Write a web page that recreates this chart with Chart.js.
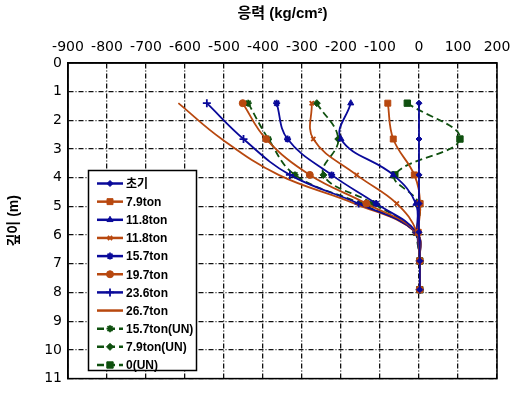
<!DOCTYPE html>
<html>
<head>
<meta charset="utf-8">
<script src="https://cdn.jsdelivr.net/npm/chart.js@4.4.1/dist/chart.umd.min.js"></script>
<style>
  html, body { margin: 0; padding: 0; background: #fff; }
  #wrap { width: 518px; height: 393px; }
</style>
</head>
<body>
<div id="wrap"><canvas id="stressChart" width="518" height="393"></canvas></div>
<script>
// measuring depths (m)
const depths = [1.4, 2.65, 3.9, 4.9, 5.9, 6.9, 7.9];

// series names
const seriesNames = ['초기', '7.9ton', '11.8ton', '11.8ton', '15.7ton', '19.7ton',
  '23.6ton', '26.7ton', '15.7ton(UN)', '7.9ton(UN)', '0(UN)'];

// stress (kg/cm2) at each depth
const initial   = [0, 0, 0, 0, 0, 2, 2];
const load79    = [-80, -66, -12, 3, -2, 2, 2];
const load118a  = [-175, -200, -66, -8, -5, 2, 2];
const load118b  = [-275, -271, -160, -57, -5, 2, 2];
const load157   = [-365, -337, -224, -110, -6, 2, 2];
const load197   = [-452, -392, -280, -135, -6, 2, 2];
const load236   = [-544, -450, -331, -155, -7, 2, 2];
const load267   = [-617, -506, -360, -165, -8, 2, 2];
const unload157 = [-438, -386, -318, -151, -8, 2, 2];
const unload79  = [-262, -207, -245, -117, -8, 2, 2];
const unload0   = [-30, 105, -62, 0, -6, 2, 2];

// axis ticks
const xTicks = [-900, -800, -700, -600, -500, -400, -300, -200, -100, 0, 100, 200];
const yTicks = [0, 1, 2, 3, 4, 5, 6, 7, 8, 9, 10, 11];

const BLUE = '#0a0a9a';
const BROWN = '#b8480f';
const GREEN = '#0f500f';

function points(vals) {
  return vals.map((v, i) => ({ x: v, y: depths[i] }));
}

function series(i, vals, color, style, radius, dashed) {
  return {
    label: seriesNames[i],
    data: points(vals),
    borderColor: color,
    backgroundColor: color,
    borderWidth: 1.8,
    borderDash: dashed ? [7, 4] : [],
    tension: 0.4,
    pointStyle: style,
    pointRadius: style ? radius : 0,
    pointBorderWidth: (style === 'star' || style === 'cross' || style === 'crossRot') ? 1.8 : 1,
    pointBorderColor: color,
    pointBackgroundColor: color
  };
}

const datasets = [
  series(0, initial, BLUE, 'rectRot', 3, false),
  series(1, load79, BROWN, 'rect', 4.2, false),
  series(2, load118a, BLUE, 'triangle', 3.5, false),
  series(3, load118b, BROWN, 'crossRot', 3, false),
  series(4, load157, BLUE, 'star', 3.5, false),
  series(5, load197, BROWN, 'circle', 3.5, false),
  series(6, load236, BLUE, 'cross', 4, false),
  series(7, load267, BROWN, false, 0, false),
  series(8, unload157, GREEN, 'star', 3.5, true),
  series(9, unload79, GREEN, 'rectRot', 3.5, true),
  series(10, unload0, GREEN, 'rect', 4.5, true)
];

// frame around the plot
const frame = {
  id: 'frame',
  afterDatasetsDraw(chart) {
    const { ctx, chartArea: a } = chart;
    ctx.save();
    ctx.strokeStyle = '#000';
    ctx.lineWidth = 1.5;
    ctx.strokeRect(a.left, a.top, a.right - a.left, a.bottom - a.top);
    ctx.restore();
  }
};

// boxed legend sitting inside the plot, lower left
const boxLegend = {
  id: 'boxLegend',
  afterDraw(chart) {
    const ctx = chart.ctx;
    const left = 88.5, top = 170.5, w = 108, h = 200;
    ctx.save();
    ctx.fillStyle = '#fff';
    ctx.fillRect(left, top, w, h);
    ctx.strokeStyle = '#000';
    ctx.lineWidth = 1.5;
    ctx.strokeRect(left, top, w, h);
    ctx.font = "bold 12px 'Liberation Sans', 'Noto Sans CJK KR', sans-serif";
    ctx.textBaseline = 'middle';
    chart.data.datasets.forEach((ds, i) => {
      const y = 183.5 + i * 18.15;
      ctx.save();
      ctx.strokeStyle = ds.borderColor;
      ctx.lineWidth = 2.5;
      ctx.setLineDash(ds.borderDash || []);
      ctx.beginPath();
      ctx.moveTo(97, y);
      ctx.lineTo(123, y);
      ctx.stroke();
      ctx.restore();
      if (ds.pointStyle) {
        ctx.save();
        ctx.fillStyle = ds.pointBackgroundColor;
        ctx.strokeStyle = ds.pointBorderColor;
        ctx.lineWidth = ds.pointBorderWidth;
        Chart.helpers.drawPoint(ctx, {
          pointStyle: ds.pointStyle, radius: ds.pointRadius, rotation: 0, borderWidth: ds.pointBorderWidth
        }, 110, y);
        ctx.restore();
      }
      ctx.fillStyle = '#000';
      ctx.fillText(ds.label, 126, y + 1);
    });
    ctx.restore();
  }
};

const tickFont = { family: "'DejaVu Sans', sans-serif", size: 14 };
const titleFont = { family: "'Liberation Sans', 'Noto Sans CJK KR', sans-serif", size: 15, weight: 'bold' };
const gridDash = [5, 2, 1, 2];

new Chart(document.getElementById('stressChart'), {
  type: 'line',
  data: { datasets },
  options: {
    responsive: false,
    animation: false,
    layout: { padding: { left: 0, top: 0, right: 21, bottom: 10 } },
    plugins: {
      legend: { display: false },
      tooltip: { enabled: false }
    },
    scales: {
      x: {
        type: 'linear',
        position: 'top',
        min: xTicks[0],
        max: xTicks[xTicks.length - 1],
        afterBuildTicks(s) { s.ticks = xTicks.map(v => ({ value: v })); },
        afterFit(s) { s.height = 63; },
        ticks: { font: tickFont, color: '#000', padding: 7, maxRotation: 0, autoSkip: false },
        grid: { color: '#111', lineWidth: 1.3, drawTicks: false },
        border: { display: true, color: '#000', width: 1.5, dash: gridDash },
        title: {
          display: true, text: '응력 (kg/cm²)', color: '#000', font: titleFont,
          padding: { top: 5, bottom: 0 }
        }
      },
      y: {
        type: 'linear',
        reverse: true,
        min: yTicks[0],
        max: yTicks[yTicks.length - 1],
        afterBuildTicks(s) { s.ticks = yTicks.map(v => ({ value: v })); },
        afterFit(s) { s.width = 68; },
        ticks: { font: tickFont, color: '#000', padding: 6, autoSkip: false },
        grid: { color: '#111', lineWidth: 1.3, drawTicks: false },
        border: { display: true, color: '#000', width: 1.5, dash: gridDash },
        title: {
          display: true, text: '깊이 (m)', color: '#000',
          font: { family: titleFont.family, size: 14, weight: 'bold' },
          padding: { top: 6, bottom: 0 }
        }
      }
    }
  },
  plugins: [frame, boxLegend]
});
</script>
</body>
</html>
